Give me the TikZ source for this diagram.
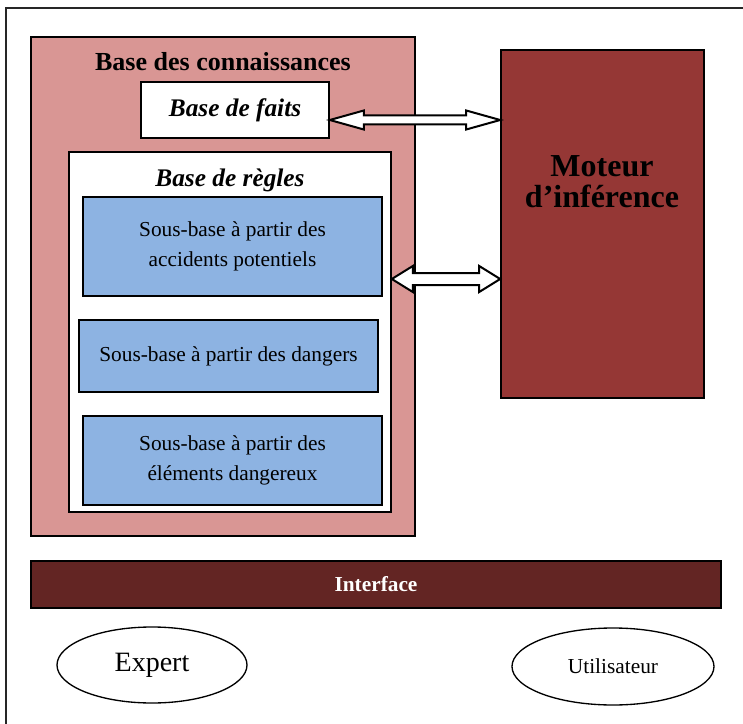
\documentclass[tikz,border=0pt]{standalone}
\usepackage{fontspec}
\setmainfont{Liberation Serif}
\usetikzlibrary{calc,shapes.geometric}
\definecolor{rosebase}{RGB}{217,150,148}
\definecolor{bleusous}{RGB}{141,179,226}
\definecolor{rougemoteur}{RGB}{149,55,53}
\definecolor{brunface}{RGB}{99,37,35}
% block arrow: (from)(to)(shaft half:head half:head length)
\def\blockarrow(#1)(#2)(#3:#4:#5){\draw[dblarrow] (#1) -- ($(#1)+(#5,-#4)$) -- ($(#1)+(#5,-#3)$) -- ($(#2)+(-#5,-#3)$) -- ($(#2)+(-#5,-#4)$) -- (#2) -- ($(#2)+(-#5,#4)$) -- ($(#2)+(-#5,#3)$) -- ($(#1)+(#5,#3)$) -- ($(#1)+(#5,#4)$) -- cycle;}

\begin{document}
\begin{tikzpicture}[x=0.75pt, y=-0.75pt,
		box/.style={draw=black, line width=1.2pt, rectangle, inner sep=0pt},
		sousbase/.style={box, fill=bleusous, minimum width=224.25pt, align=center, font=\fontsize{16}{22.5}\selectfont},
		titre/.style={font=\fontsize{19.5}{22}\selectfont\bfseries},
		dblarrow/.style={draw=black, fill=white, line width=1.5pt, line join=miter},
		acteur/.style={draw=black, line width=1pt, ellipse, inner sep=0pt}]
		%%%%% START %%%%%
		
		\useasboundingbox (0, 0) rectangle (743, 724);
		\draw[line width=1.5pt, color=black!85] (6, 8) rectangle (750, 732);
		
		\node[box, fill=rosebase, minimum width=288pt, minimum height=374.25pt] (base) at (223, 286.5) {};
		\node[titre] (basetitre) at (223, 62) {Base des connaissances};
		\node[box, fill=white, minimum width=141pt, minimum height=42pt, font=\fontsize{19}{22}\selectfont\bfseries\itshape] (faits) at (235, 110) {Base de faits};
		
		\node[box, fill=white, minimum width=241.5pt, minimum height=270pt] (regles) at (230, 332) {};
		\node[titre, font=\fontsize{19}{22}\selectfont\bfseries\itshape] (reglestitre) at (230, 180) {Base de règles};
		\node[sousbase, minimum height=74.25pt] (accidents) at (232.5, 246.5) {Sous-base à partir des\\accidents potentiels};
		\node[sousbase, minimum height=54pt] (dangers) at (228.5, 356) {Sous-base à partir des dangers};
		\node[sousbase, minimum height=66.75pt] (elements) at (232.5, 460.5) {Sous-base à partir des\\éléments dangereux};
		
		\node[box, fill=rougemoteur, minimum width=152.25pt, minimum height=261pt] (moteur) at (602.5, 224) {};
		\node[align=center, font=\fontsize{24}{23}\selectfont\bfseries] (moteurtexte) at (602, 182) {Moteur\\d’inférence};
		
		\coordinate (f1) at (faits.east |- 0,120);
		\coordinate (m1) at (moteur.west |- 0,120);
		\blockarrow(f1)(m1)(4.5:9.5:34)
		\coordinate (r2) at (regles.east |- 0,279);
		\coordinate (m2) at (moteur.west |- 0,279);
		\blockarrow(r2)(m2)(6:13:21)
		
		\node[box, fill=brunface, minimum width=517.5pt, minimum height=35.25pt, text=white, font=\fontsize{16}{18}\selectfont\bfseries] (interface) at (376, 584.5) {Interface};
		
		\node[acteur, minimum width=142.5pt, minimum height=57pt, font=\fontsize{21}{24}\selectfont] (expert) at (152, 665) {Expert};
		\node[acteur, minimum width=151.5pt, minimum height=57.75pt, font=\fontsize{16}{18}\selectfont] (utilisateur) at (613, 666.5) {Utilisateur};
		
		%%%%% END %%%%%
	\end{tikzpicture}
\end{document}
